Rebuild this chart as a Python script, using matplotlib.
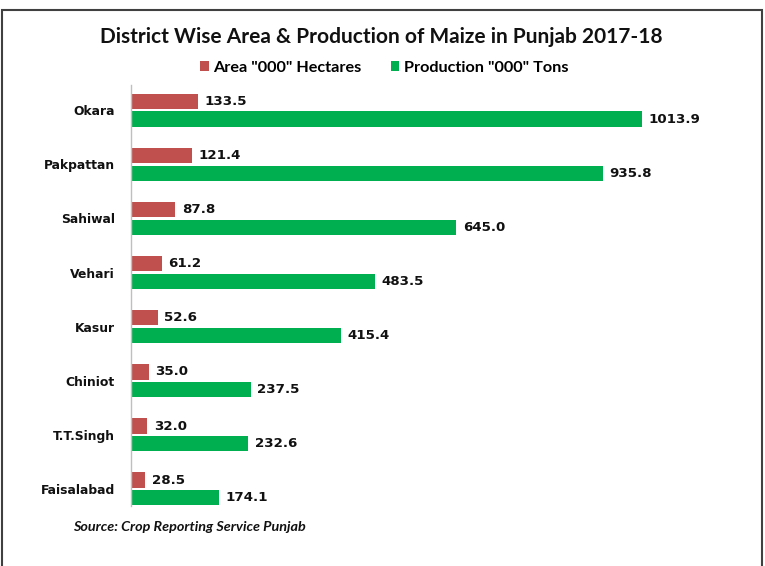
import matplotlib
matplotlib.use("Agg")
import matplotlib.pyplot as plt
from matplotlib.patches import Rectangle
import numpy as np

districts = ["Okara", "Pakpattan", "Sahiwal", "Vehari", "Kasur", "Chiniot", "T.T.Singh", "Faisalabad"]
area = [133.5, 121.4, 87.8, 61.2, 52.6, 35.0, 32.0, 28.5]
production = [1013.9, 935.8, 645.0, 483.5, 415.4, 237.5, 232.6, 174.1]
series_names = ['Area "000" Hectares', 'Production "000" Tons']
title = "District Wise Area & Production of Maize in Punjab 2017-18"
source = "Source: Crop Reporting Service Punjab"

red = "#C0504D"
green = "#00B050"
narrow = ["Lato", "DejaVu Sans"]

fig = plt.figure(figsize=(7.65, 5.66), dpi=100)
fig.patch.set_facecolor("white")
ax = fig.add_axes([131/765, 1-506/566, 580/765, 421/566])

y = np.arange(len(districts))
h = 0.28
off = 0.16
ax.barh(y - off, area, height=h, color=red, label=series_names[0])
ax.barh(y + off, production, height=h, color=green, label=series_names[1])

for yi, v in zip(y, area):
    ax.text(v + 13, yi - off, f"{v:.1f}", va="center", ha="left",
            fontsize=9.6, fontweight="bold", color="#111111")
for yi, v in zip(y, production):
    ax.text(v + 13, yi + off, f"{v:.1f}", va="center", ha="left",
            fontsize=9.6, fontweight="bold", color="#111111")

ax.set_xlim(0, 1150)
ax.set_ylim(7.32, -0.47)
ax.set_yticks(y)
ax.set_yticklabels(districts, fontsize=8.9, fontweight="bold", color="#111111")
ax.tick_params(axis="y", length=0, pad=11.5)
ax.set_xticks([])
for s in ["top", "right", "bottom"]:
    ax.spines[s].set_visible(False)
ax.spines["left"].set_color("#BFBFBF")
ax.spines["left"].set_linewidth(1.0)

fig.text(0.498, 1-37/566, title, ha="center", va="center", fontsize=15,
         fontweight="bold", family=narrow, color="#111111")

leg = fig.legend(loc="center", bbox_to_anchor=(0.502, 1-68/566), ncol=2,
                 frameon=False, prop={"family": narrow, "weight": "bold", "size": 11.7},
                 handlelength=0.55, handleheight=0.55, handletextpad=0.25,
                 columnspacing=1.8)

fig.text(73/765, 1-527/566, source, ha="left", va="center", fontsize=10.4,
         fontweight="bold", style="italic", family=narrow, color="#111111")

fig.patches.append(Rectangle((1.5/765, -0.05), 760/765, 1.05 - 10/566,
                             transform=fig.transFigure, fill=False,
                             edgecolor="#404040", linewidth=1.5))

fig.savefig("out.png", dpi=100)
